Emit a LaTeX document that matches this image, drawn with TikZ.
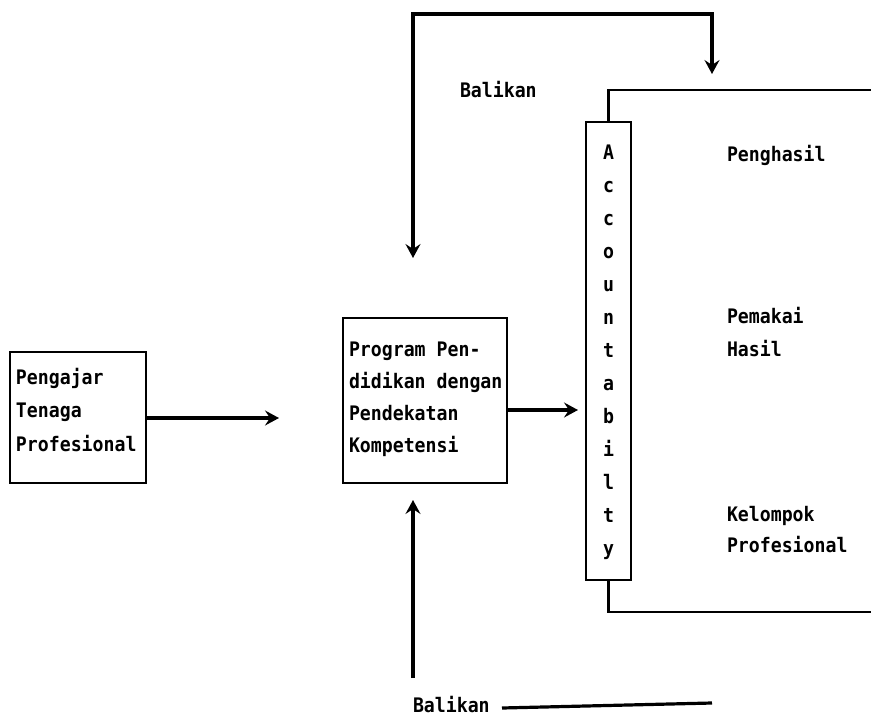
\documentclass[tikz,border=0pt]{standalone}
\usepackage{fontspec}
\newfontfamily\dm[FakeStretch=0.91]{DejaVu Sans Mono}
\usetikzlibrary{arrows.meta,calc}
\begin{document}
\begin{tikzpicture}[x=1pt,y=-1pt,
  hd/.tip={Stealth[length=14pt,width=15pt,inset=5pt]},
  box/.style={draw, line width=2.2pt, inner sep=0pt, outer sep=0pt},
  txt/.style={font=\dm\bfseries\fontsize{20}{33}\selectfont, inner sep=0pt, outer sep=0pt, align=left, anchor=north west},
  arr/.style={line width=3.2pt, -hd},
  fb/.style={line width=3.2pt},
  brk/.style={line width=2.4pt}]
\useasboundingbox (0,0) rectangle (871,716);
% boxes
\node[box, minimum width=136pt, minimum height=131pt] (teach) at (78,417.5) {};
\node[txt, font=\dm\bfseries\fontsize{20}{33.5}\selectfont] (teacht) at (16,368) {Pengajar\\Tenaga\\Profesional};
\node[box, minimum width=164pt, minimum height=165pt] (prog) at (425,400.5) {};
\node[txt, font=\dm\bfseries\fontsize{20}{32}\selectfont] (progt) at (349,342) {Program Pen-\\didikan dengan\\Pendekatan\\Kompetensi};
\node[box, minimum width=45pt, minimum height=458pt] (acc) at (608.5,351) {};
\node[txt, anchor=north, align=center] (acct) at (608.5,145) {A\\c\\c\\o\\u\\n\\t\\a\\b\\i\\l\\t\\y};
% right labels
\node[txt] (r1) at (727,145) {Penghasil};
\node[txt] (r2) at (727,307) {Pemakai\\Hasil};
\node[txt, font=\dm\bfseries\fontsize{20}{31}\selectfont] (r3) at (727,506) {Kelompok\\Profesional};
\node[txt] (bal1) at (460,81) {Balikan};
\node[txt] (bal2) at (413,696) {Balikan};
% arrows
\coordinate (t1) at (279,418);
\draw[arr] (teach.east |- t1) -- (t1);
\coordinate (a2) at (0,410);
\draw[arr, shorten >=8pt] (prog.east |- a2) -- (acc.west |- a2);
% top feedback
\coordinate (ft1) at (413,258);
\coordinate (ft2) at (413,14);
\coordinate (ft3) at (712,14);
\coordinate (ft4) at (712,74);
\draw[fb, hd-hd] (ft1) -- (ft2) -- (ft3) -- (ft4);
% bottom feedback
\coordinate (fb1) at (413,678);
\coordinate (fb2) at (413,500);
\draw[arr] (fb1) -- (fb2);
\coordinate (bl1) at (502,708);
\coordinate (bl2) at (712,703);
\draw[fb] (bl1) -- (bl2);
% bracket
\coordinate (bt) at (873,90);
\coordinate (bb) at (873,612);
\draw[brk] (acc.north) -- (acc.north |- bt) -- (bt);
\draw[brk] (acc.south) -- (acc.south |- bb) -- (bb);
\end{tikzpicture}
\end{document}
